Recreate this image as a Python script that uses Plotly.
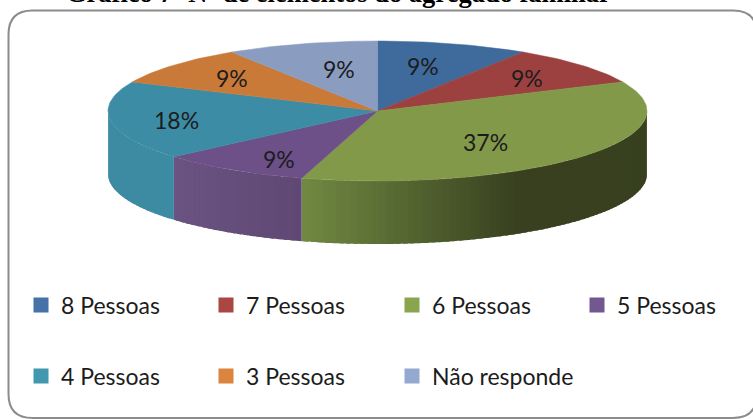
import math
import plotly.graph_objects as go

categories = ["8 Pessoas", "7 Pessoas", "6 Pessoas", "5 Pessoas", "4 Pessoas", "3 Pessoas", "Não responde"]
values = [9.09, 9.09, 36.36, 9.09, 18.19, 9.09, 9.09]
pct_labels = ["9%", "9%", "37%", "9%", "18%", "9%", "9%"]
top_colors = ["#3f6a9c", "#9c413f", "#82994a", "#6c5087", "#3d8ca5", "#c97a38", "#8a9dc0"]
legend_colors = ["#4572a7", "#aa4643", "#89a54e", "#71588f", "#4198af", "#db843d", "#93a9cf"]
label_xy = [(423, 66), (527, 78), (485, 142), (279, 159), (176, 120), (232, 78), (339, 69)]
legend_cols = [21, 206, 392, 577, 21, 206, 392]
legend_rows = [305, 305, 305, 305, 376, 376, 376]

W, H = 753, 419
CX, CY, RX, RY, DEPTH = 377.5, 111, 269.5, 70, 63


def pt(deg, dy=0.0):
    a = math.radians(deg)
    return CX + RX * math.sin(a), CY - RY * math.cos(a) + dy


def mix(c1, c2, t):
    return "rgb(%d,%d,%d)" % tuple(round(a + (b - a) * t) for a, b in zip(c1, c2))


def side_color(i, x):
    if i == 2:  # green: light at the front, dark to the right
        return mix((112, 137, 66), (56, 64, 31), min(1.0, max(0.0, (x - 303) / 215.0)))
    if i == 3:
        return mix((106, 82, 130), (96, 72, 116), (x - 175) / 128.0)
    return "rgb(61,138,163)"


fig = go.Figure()

edges = [0.0]
for v in values:
    edges.append(edges[-1] + v / sum(values) * 360)

# visible side wall, drawn in overlapping strips from the back outward
for i, v in enumerate(values):
    lo, hi = max(edges[i], 90.0), min(edges[i + 1], 270.0)
    if hi <= lo:
        continue
    n = max(2, int((hi - lo) / 1.5))
    for k in range(n):
        a0 = lo + (hi - lo) * k / n
        a1 = lo + (hi - lo) * (k + 1) / n
        a1x = min(a1 + 1.0, hi)
        p = [pt(a0), pt(a1x), pt(a1x, DEPTH), pt(a0, DEPTH), pt(a0)]
        col = side_color(i, pt((a0 + a1) / 2)[0])
        fig.add_trace(go.Scatter(x=[q[0] for q in p], y=[q[1] for q in p], mode="lines",
                                 fill="toself", fillcolor=col, line=dict(width=0),
                                 hoverinfo="skip", showlegend=False))

# top face
for i, v in enumerate(values):
    n = max(8, int(v * 3))
    pts = [(CX, CY)] + [pt(edges[i] + (edges[i + 1] - edges[i]) * k / n) for k in range(n + 1)] + [(CX, CY)]
    fig.add_trace(go.Scatter(x=[q[0] for q in pts], y=[q[1] for q in pts], mode="lines",
                             fill="toself", fillcolor=top_colors[i],
                             line=dict(color=top_colors[i], width=0.5),
                             name=categories[i], hoverinfo="name", showlegend=False))

legend_common = dict(orientation="h", xanchor="left", yanchor="middle", bgcolor="rgba(0,0,0,0)",
                     itemclick=False, itemsizing="trace",
                     font=dict(family="Lato, Carlito, sans-serif", size=23, color="#1c1c1c"))
legends = {}
for i, c in enumerate(categories):
    key = "legend" if i == 0 else f"legend{i + 1}"
    fig.add_trace(go.Scatter(x=[None], y=[None], mode="markers", name=c, legend=key,
                             marker=dict(symbol="square", size=15, color=legend_colors[i])))
    legends[key] = dict(x=legend_cols[i] / W, y=1 - legend_rows[i] / H, **legend_common)

LABEL_FONT = dict(family="Lato, Carlito, sans-serif", size=23, color="#1c1c1c")
for txt, (x, y) in zip(pct_labels, label_xy):
    fig.add_annotation(x=x, y=y, text=txt, showarrow=False, font=LABEL_FONT)

fig.add_annotation(x=338, y=10.5, yanchor="bottom", xanchor="center", showarrow=False,
                   text="<b>Gráfico 7- Nº de elementos do agregado familiar</b>",
                   font=dict(family="Liberation Serif, serif", size=26.5, color="#000000"))

# rounded frame
L, T, R, B, r = 8.5, 10.5, 757, 418, 24
fig.add_shape(type="path", xref="x", yref="y", layer="below",
              path=f"M{L+r},{T} L{R-r},{T} Q{R},{T} {R},{T+r} L{R},{B-r} Q{R},{B} {R-r},{B} "
                   f"L{L+r},{B} Q{L},{B} {L},{B-r} L{L},{T+r} Q{L},{T} {L+r},{T} Z",
              line=dict(color="#8c8c8c", width=2), fillcolor="white")

fig.update_layout(
    width=W, height=H, autosize=False, margin=dict(l=0, r=0, t=0, b=0),
    paper_bgcolor="white", plot_bgcolor="white",
    xaxis=dict(range=[0, W], visible=False, fixedrange=True),
    yaxis=dict(range=[H, 0], visible=False, fixedrange=True),
    **legends,
)

fig.write_html("out.html", config={"displayModeBar": False},
               post_script="document.body.style.margin='0';document.body.style.overflow='hidden';")
